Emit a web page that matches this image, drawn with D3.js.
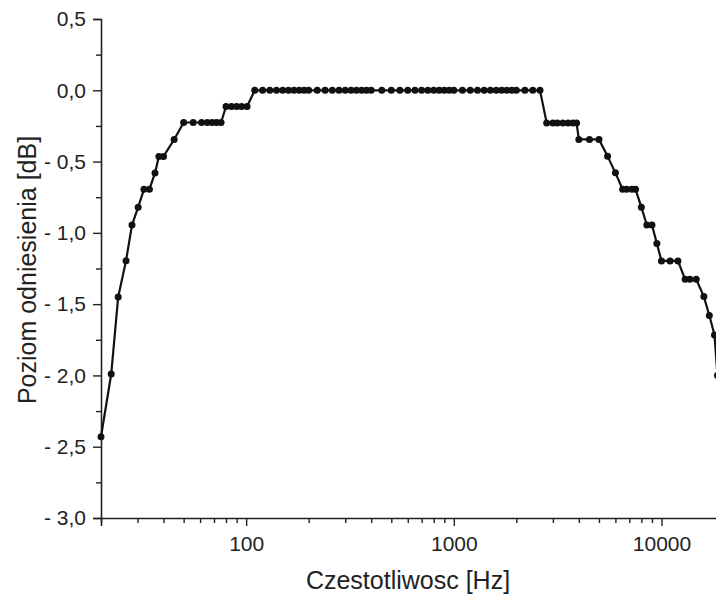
<!DOCTYPE html>
<html>
<head>
<meta charset="utf-8">
<script src="https://cdn.jsdelivr.net/npm/d3@7/dist/d3.min.js"></script>
<style>
  html, body { margin: 0; padding: 0; background: #fff; }
  svg { display: block; }
  text { font-family: "Liberation Sans", Arial, sans-serif; fill: #222; }
</style>
</head>
<body>
<svg id="chart" width="716" height="596"></svg>
<script>
// ---- data ----
const frequencies = [
  20, 22.4, 24.2, 26.4, 28.2, 30.2, 32.2, 34.2, 36.4, 38, 40, 45,
  50, 55.6, 61, 65, 68.6, 72, 75.7,
  80, 85, 90, 95, 101,
  110, 120, 130, 140, 150, 160, 170, 180, 190, 200,
  220, 240, 260, 280, 300, 320, 340, 360, 380, 400,
  450, 500, 550, 600, 650, 700, 750, 800, 850, 900, 950, 1000,
  1100, 1200, 1300, 1400, 1500, 1600, 1700, 1800, 1900, 2000,
  2200, 2400, 2600,
  2800, 3000, 3150, 3350, 3550, 3750, 3900,
  4000, 4500, 5000, 5500, 6000,
  6500, 6800, 7200, 7500, 8000, 8500, 9000, 9500,
  10000, 11000, 12000, 13000, 13700, 14700, 16000, 17000, 18000, 18600
];
const levels = [
  -2.43, -1.99, -1.45, -1.195, -0.945, -0.82, -0.695, -0.695, -0.58, -0.464, -0.464, -0.345,
  -0.226, -0.226, -0.226, -0.226, -0.226, -0.226, -0.226,
  -0.114, -0.114, -0.114, -0.114, -0.114,
  0, 0, 0, 0, 0, 0, 0, 0, 0, 0,
  0, 0, 0, 0, 0, 0, 0, 0, 0, 0,
  0, 0, 0, 0, 0, 0, 0, 0, 0, 0, 0, 0,
  0, 0, 0, 0, 0, 0, 0, 0, 0, 0,
  0, 0, 0,
  -0.229, -0.229, -0.229, -0.229, -0.229, -0.229, -0.229,
  -0.345, -0.345, -0.345, -0.462, -0.579,
  -0.695, -0.695, -0.695, -0.695, -0.82, -0.945, -0.945, -1.074,
  -1.197, -1.197, -1.197, -1.326, -1.326, -1.326, -1.447, -1.58, -1.716, -2.0
];
const xMajorTicks = [100, 1000, 10000];
const xMinorTicks = [20, 30, 40, 50, 60, 70, 80, 90,
                     200, 300, 400, 500, 600, 700, 800, 900,
                     2000, 3000, 4000, 5000, 6000, 7000, 8000, 9000];
const yMajorTicks = [0.5, 0, -0.5, -1.0, -1.5, -2.0, -2.5, -3.0];
const yMinorTicks = [0.25, -0.25, -0.75, -1.25, -1.75, -2.25, -2.75];
const xTitle = "Czestotliwosc [Hz]";
const yTitle = "Poziom odniesienia [dB]";

const data = frequencies.map((f, i) => ({ f, v: levels[i] }));

// ---- layout ----
const svg = d3.select("#chart");
const x = d3.scaleLog().domain([20, 20000]).range([101, 724]);
const y = d3.scaleLinear().domain([-3, 0.5]).range([518, 19]);

const fmtY = v => {
  const s = Math.abs(v).toFixed(1).replace(".", ",");
  return v < -1e-9 ? "- " + s : s;
};

svg.append("defs").append("clipPath").attr("id", "clip")
  .append("rect").attr("x", 95).attr("y", 10).attr("width", 640).attr("height", 515);

// y axis
svg.append("g").attr("transform", "translate(101,0)")
  .call(d3.axisLeft(y).tickValues(yMajorTicks).tickFormat(fmtY).tickSize(8).tickPadding(7))
  .call(g => g.select(".domain").attr("stroke", "#222").attr("stroke-width", 1.6))
  .call(g => g.selectAll(".tick line").attr("stroke", "#222").attr("stroke-width", 1.4))
  .call(g => g.selectAll(".tick text").style("font-size", "21px").attr("fill", "#2a2a2a"));
svg.append("g").attr("transform", "translate(101,0)")
  .call(d3.axisLeft(y).tickValues(yMinorTicks).tickFormat("").tickSize(5))
  .call(g => g.select(".domain").remove())
  .call(g => g.selectAll(".tick line").attr("stroke", "#222").attr("stroke-width", 1.4));

// x axis
svg.append("g").attr("transform", "translate(0,518)")
  .call(d3.axisBottom(x).tickValues(xMajorTicks).tickFormat(d3.format("d")).tickSize(8).tickPadding(10))
  .call(g => g.select(".domain").attr("stroke", "#222").attr("stroke-width", 1.6))
  .call(g => g.selectAll(".tick line").attr("stroke", "#222").attr("stroke-width", 1.4))
  .call(g => g.selectAll(".tick text").style("font-size", "21px").attr("fill", "#2a2a2a"));
svg.append("g").attr("transform", "translate(0,518)")
  .call(d3.axisBottom(x).tickValues(xMinorTicks).tickFormat("").tickSize(5))
  .call(g => g.select(".domain").remove())
  .call(g => g.selectAll(".tick line").attr("stroke", "#222").attr("stroke-width", 1.4));

// titles
svg.append("text")
  .attr("x", 408).attr("y", 589)
  .attr("text-anchor", "middle")
  .style("font-size", "25px")
  .text(xTitle);
svg.append("text")
  .attr("transform", "translate(36,270) rotate(-90)")
  .attr("text-anchor", "middle")
  .style("font-size", "25px")
  .text(yTitle);

// line + markers
const plot = svg.append("g").attr("clip-path", "url(#clip)");
plot.append("path")
  .datum(data)
  .attr("fill", "none")
  .attr("stroke", "#111")
  .attr("stroke-width", 2.2)
  .attr("d", d3.line().x(d => x(d.f)).y(d => y(d.v)));
plot.selectAll("circle")
  .data(data)
  .join("circle")
  .attr("cx", d => x(d.f))
  .attr("cy", d => y(d.v))
  .attr("r", 3.5)
  .attr("fill", "#111");
</script>
</body>
</html>
